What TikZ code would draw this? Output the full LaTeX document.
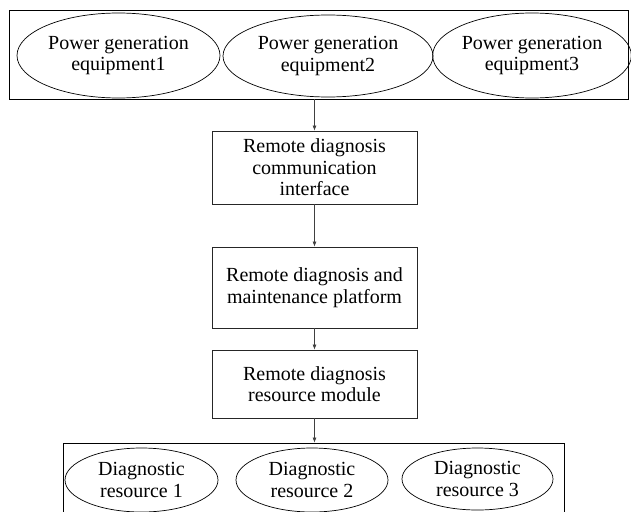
\documentclass[tikz,border=0pt]{standalone}
\usepackage{fontspec}
\setmainfont{Liberation Serif}
\usetikzlibrary{shapes,arrows.meta,positioning,calc}

\begin{document}
\begin{tikzpicture}[
        x=1pt, y=-1pt,
        font=\fontsize{20}{21.5}\selectfont,
        >=latex,
        % Block styles
        group/.style={
            rectangle,
            draw=black,
            line width=0.8pt,
            inner sep=0pt
        },
        unit/.style={
            ellipse,
            draw=black,
            line width=0.7pt,
            inner sep=0pt,
            align=center
        },
        block/.style={
            rectangle,
            draw=black!85,
            line width=0.8pt,
            minimum width=205pt,
            align=center
        },
        arrow/.style={-{Latex[length=5pt,width=4pt]}, line width=0.7pt, draw=black!75}
    ]
    \useasboundingbox (0,0) rectangle (631,511);

    % Power generation equipment
    \node[group, minimum width=619pt, minimum height=89pt] (equipframe) at (318.5, 54.5) {};
    \node[unit, minimum width=203pt, minimum height=85pt] (equipA) at (118.5, 55.5) {Power generation\\equipment1};
    \node[unit, minimum width=210pt, minimum height=82pt] (equipB) at (328, 56) {Power generation\\equipment2};
    \node[unit, minimum width=196pt, minimum height=85pt] (equipC) at (532, 55.5) {Power generation\\equipment3};

    % Remote diagnosis chain
    \node[block, minimum height=73pt] (commif) at (314.5, 167.5) {Remote diagnosis\\communication\\interface};
    \node[block, minimum height=81pt] (platform) at (314.5, 287.5) {Remote diagnosis and\\maintenance platform};
    \node[block, minimum height=68pt] (resmodule) at (314.5, 384) {Remote diagnosis\\resource module};

    % Diagnostic resources
    \node[group, minimum width=501pt, minimum height=80pt] (resframe) at (313.5, 483) {};
    \node[unit, minimum width=153pt, minimum height=64pt] (resA) at (141.5, 480) {Diagnostic\\resource 1};
    \node[unit, minimum width=152pt, minimum height=64pt] (resB) at (312, 480) {Diagnostic\\resource 2};
    \node[unit, minimum width=151pt, minimum height=62pt] (resC) at (477.5, 479) {Diagnostic\\resource 3};

    % Connections
    \draw[arrow] (commif.north |- equipframe.south) -- (commif);
    \draw[arrow] (commif) -- (platform);
    \draw[arrow] (platform) -- (resmodule);
    \draw[arrow] (resmodule) -- (resmodule |- resframe.north);

\end{tikzpicture}
\end{document}
